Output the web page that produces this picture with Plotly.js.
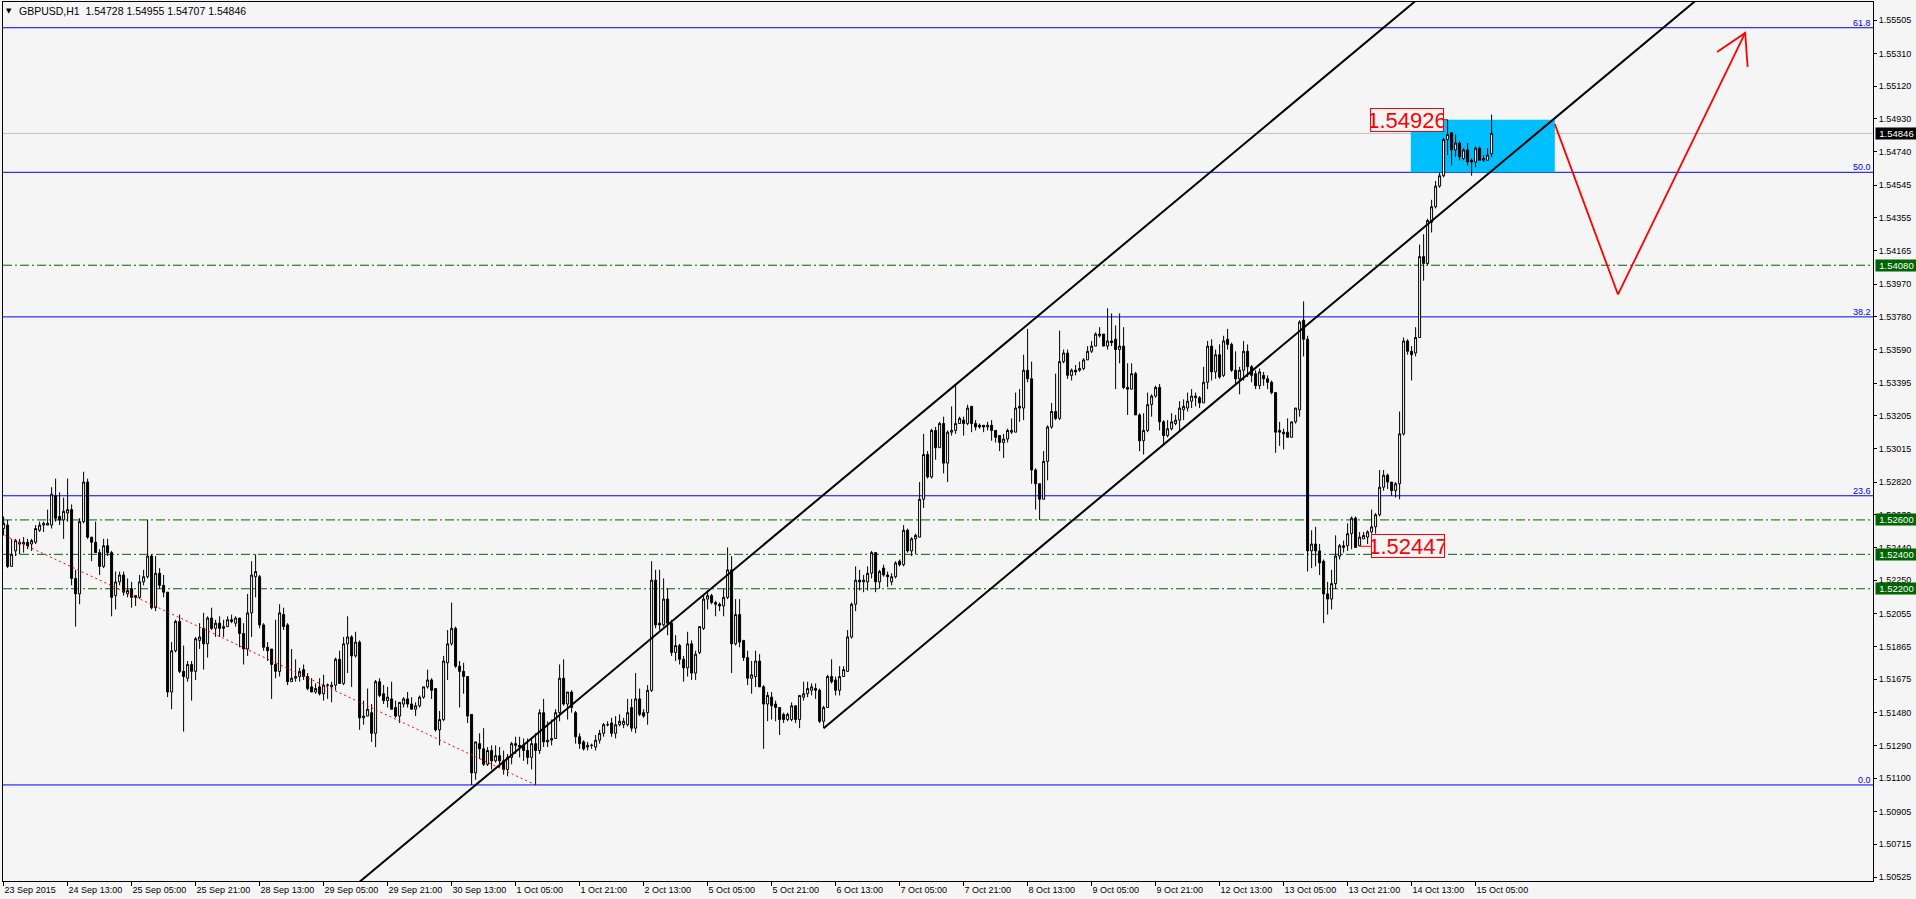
<!DOCTYPE html>
<html><head><meta charset="utf-8">
<script src="https://cdn.plot.ly/plotly-3.0.1.min.js"></script>
<style>html,body{margin:0;padding:0;background:#f5f5f5;overflow:hidden}</style>
</head><body><div id="chart" style="width:1916px;height:899px"></div>
<script>
const symbolTitle = "GBPUSD,H1  1.54728 1.54955 1.54707 1.54846";

const opens = [
1.5255,1.5257,1.5233,1.5242,1.5246,1.5246,1.5247,1.5246,1.5247,1.5254,
1.5257,1.5257,1.5257,1.5274,1.5262,1.5260,1.5264,1.5266,1.5226,1.5217,
1.5259,1.5282,1.5250,1.5247,1.5241,1.5233,1.5245,1.5241,1.5216,1.5224,
1.5228,1.5217,1.5220,1.5216,1.5215,1.5224,1.5227,1.5239,1.5209,1.5229,
1.5222,1.5218,1.5160,1.5184,1.5201,1.5172,1.5168,1.5176,1.5172,1.5190,
1.5197,1.5188,1.5203,1.5197,1.5200,1.5197,1.5198,1.5202,1.5200,1.5203,
1.5194,1.5185,1.5206,1.5227,1.5227,1.5199,1.5186,1.5185,1.5176,1.5172,
1.5205,1.5199,1.5166,1.5168,1.5169,1.5173,1.5169,1.5163,1.5160,1.5163,
1.5159,1.5164,1.5163,1.5164,1.5179,1.5165,1.5188,1.5192,1.5181,1.5189,
1.5145,1.5146,1.5148,1.5136,1.5166,1.5159,1.5155,1.5156,1.5151,1.5146,
1.5153,1.5156,1.5153,1.5150,1.5152,1.5157,1.5163,1.5167,1.5162,1.5138,
1.5144,1.5177,1.5188,1.5197,1.5175,1.5172,1.5169,1.5147,1.5113,1.5130,
1.5127,1.5118,1.5126,1.5120,1.5123,1.5120,1.5115,1.5122,1.5130,1.5129,
1.5129,1.5126,1.5122,1.5130,1.5126,1.5148,1.5131,1.5132,1.5133,1.5148,
1.5168,1.5153,1.5160,1.5148,1.5134,1.5131,1.5128,1.5129,1.5128,1.5132,
1.5136,1.5141,1.5142,1.5136,1.5141,1.5141,1.5141,1.5151,1.5139,1.5156,
1.5148,1.5148,1.5161,1.5225,1.5200,1.5199,1.5214,1.5200,1.5183,1.5187,
1.5179,1.5174,1.5188,1.5171,1.5183,1.5197,1.5214,1.5216,1.5212,1.5211,
1.5210,1.5215,1.5231,1.5188,1.5205,1.5190,1.5180,1.5168,1.5169,1.5178,
1.5163,1.5153,1.5157,1.5153,1.5151,1.5147,1.5144,1.5144,1.5152,1.5144,
1.5157,1.5159,1.5161,1.5162,1.5161,1.5143,1.5151,1.5169,1.5167,1.5161,
1.5169,1.5172,1.5192,1.5211,1.5225,1.5224,1.5224,1.5229,1.5241,1.5224,
1.5232,1.5228,1.5224,1.5227,1.5236,1.5234,1.5254,1.5242,1.5249,1.5250,
1.5272,1.5298,1.5285,1.5312,1.5302,1.5316,1.5293,1.5311,1.5312,1.5316,
1.5318,1.5316,1.5326,1.5316,1.5315,1.5315,1.5314,1.5315,1.5312,1.5309,
1.5305,1.5307,1.5311,1.5311,1.5326,1.5325,1.5347,1.5342,1.5289,1.5281,
1.5272,1.5294,1.5314,1.5323,1.5319,1.5352,1.5357,1.5344,1.5347,1.5347,
1.5348,1.5353,1.5358,1.5361,1.5367,1.5368,1.5361,1.5364,1.5365,1.5359,
1.5361,1.5337,1.5336,1.5345,1.5321,1.5306,1.5312,1.5327,1.5332,1.5337,
1.5317,1.5309,1.5313,1.5316,1.5318,1.5324,1.5325,1.5329,1.5331,1.5331,
1.5328,1.5340,1.5361,1.5346,1.5356,1.5344,1.5365,1.5362,1.5347,1.5342,
1.5347,1.5358,1.5349,1.5345,1.5338,1.5344,1.5342,1.5340,1.5334,1.5312,
1.5311,1.5311,1.5308,1.5317,1.5324,1.5376,1.5365,1.5242,1.5246,1.5242,
1.5236,1.5217,1.5214,1.5223,1.5239,1.5244,1.5245,1.5252,1.5261,1.5245,
1.5249,1.5250,1.5253,1.5256,1.5263,1.5279,1.5286,1.5282,1.5277,1.5281,
1.5310,1.5364,1.5358,1.5357,1.5366,1.5413,1.5409,1.5433,1.5442,1.5454,
1.5460,1.5481,1.5485,1.5475,1.5479,1.5470,1.5475,1.5469,1.5468,1.5476,
1.5469,1.5469,1.54728];

const highs = [
1.5262,1.5260,1.5249,1.5249,1.5249,1.5250,1.5249,1.5249,1.5257,1.5259,
1.5259,1.5266,1.5279,1.5284,1.5276,1.5273,1.5284,1.5269,1.5231,1.5261,
1.5288,1.5284,1.5250,1.5259,1.5243,1.5249,1.5249,1.5242,1.5230,1.5230,
1.5230,1.5226,1.5224,1.5216,1.5228,1.5231,1.5260,1.5240,1.5239,1.5232,
1.5228,1.5218,1.5189,1.5202,1.5205,1.5187,1.5178,1.5178,1.5192,1.5200,
1.5206,1.5204,1.5209,1.5202,1.5204,1.5202,1.5204,1.5205,1.5204,1.5203,
1.5200,1.5217,1.5236,1.5240,1.5228,1.5200,1.5189,1.5185,1.5202,1.5211,
1.5209,1.5200,1.5185,1.5179,1.5174,1.5176,1.5171,1.5168,1.5165,1.5168,
1.5170,1.5165,1.5166,1.5180,1.5184,1.5192,1.5204,1.5193,1.5195,1.5190,
1.5155,1.5162,1.5153,1.5167,1.5168,1.5164,1.5163,1.5166,1.5155,1.5154,
1.5157,1.5160,1.5157,1.5154,1.5158,1.5163,1.5173,1.5168,1.5162,1.5149,
1.5181,1.5196,1.5212,1.5198,1.5178,1.5177,1.5169,1.5147,1.5131,1.5136,
1.5139,1.5128,1.5129,1.5129,1.5128,1.5126,1.5124,1.5131,1.5134,1.5134,
1.5133,1.5133,1.5133,1.5136,1.5150,1.5156,1.5143,1.5144,1.5150,1.5176,
1.5179,1.5160,1.5161,1.5149,1.5136,1.5132,1.5131,1.5130,1.5135,1.5138,
1.5142,1.5143,1.5145,1.5146,1.5147,1.5145,1.5156,1.5156,1.5171,1.5162,
1.5150,1.5164,1.5236,1.5231,1.5231,1.5226,1.5220,1.5202,1.5193,1.5188,
1.5181,1.5195,1.5190,1.5184,1.5198,1.5216,1.5219,1.5217,1.5213,1.5212,
1.5220,1.5244,1.5239,1.5214,1.5214,1.5190,1.5184,1.5178,1.5184,1.5182,
1.5164,1.5160,1.5160,1.5155,1.5151,1.5148,1.5148,1.5154,1.5152,1.5158,
1.5166,1.5166,1.5165,1.5165,1.5162,1.5152,1.5170,1.5179,1.5169,1.5175,
1.5175,1.5196,1.5212,1.5233,1.5231,1.5228,1.5233,1.5242,1.5241,1.5231,
1.5234,1.5230,1.5229,1.5236,1.5237,1.5257,1.5255,1.5250,1.5252,1.5282,
1.5310,1.5300,1.5313,1.5314,1.5317,1.5320,1.5312,1.5326,1.5338,1.5320,
1.5320,1.5327,1.5326,1.5318,1.5316,1.5315,1.5317,1.5318,1.5312,1.5309,
1.5310,1.5313,1.5319,1.5334,1.5336,1.5356,1.5371,1.5352,1.5290,1.5281,
1.5300,1.5315,1.5328,1.5345,1.5370,1.5359,1.5359,1.5348,1.5350,1.5352,
1.5354,1.5361,1.5364,1.5369,1.5372,1.5368,1.5383,1.5380,1.5373,1.5380,
1.5372,1.5351,1.5351,1.5346,1.5322,1.5322,1.5334,1.5333,1.5338,1.5339,
1.5318,1.5318,1.5322,1.5321,1.5329,1.5330,1.5334,1.5336,1.5334,1.5332,
1.5349,1.5364,1.5365,1.5359,1.5362,1.5367,1.5371,1.5363,1.5358,1.5349,
1.5364,1.5362,1.5350,1.5347,1.5348,1.5346,1.5344,1.5341,1.5334,1.5317,
1.5313,1.5319,1.5317,1.5325,1.5376,1.5387,1.5367,1.5254,1.5256,1.5246,
1.5237,1.5224,1.5231,1.5251,1.5246,1.5248,1.5258,1.5262,1.5262,1.5253,
1.5253,1.5254,1.5266,1.5264,1.5289,1.5289,1.5287,1.5282,1.5282,1.5323,
1.5366,1.5365,1.5361,1.5372,1.5420,1.5426,1.5435,1.5446,1.5457,1.5462,
1.5482,1.54926,1.5485,1.5484,1.5480,1.5476,1.5479,1.5470,1.5477,1.5477,
1.5472,1.5476,1.54955];

const lows = [
1.5251,1.5232,1.5233,1.5239,1.5240,1.5241,1.5243,1.5242,1.5246,1.5253,
1.5253,1.5257,1.5255,1.5259,1.5257,1.5249,1.5259,1.5222,1.5198,1.5211,
1.5258,1.5249,1.5236,1.5241,1.5228,1.5232,1.5239,1.5204,1.5208,1.5222,
1.5216,1.5215,1.5209,1.5210,1.5214,1.5222,1.5226,1.5208,1.5207,1.5220,
1.5215,1.5157,1.5150,1.5183,1.5171,1.5137,1.5166,1.5155,1.5167,1.5185,
1.5173,1.5180,1.5196,1.5192,1.5192,1.5192,1.5198,1.5200,1.5198,1.5186,
1.5176,1.5181,1.5192,1.5215,1.5197,1.5184,1.5178,1.5156,1.5168,1.5169,
1.5196,1.5164,1.5166,1.5166,1.5166,1.5167,1.5161,1.5160,1.5159,1.5158,
1.5155,1.5156,1.5154,1.5161,1.5165,1.5164,1.5171,1.5163,1.5180,1.5138,
1.5141,1.5146,1.5131,1.5128,1.5157,1.5153,1.5151,1.5150,1.5145,1.5142,
1.5151,1.5151,1.5150,1.5146,1.5151,1.5156,1.5162,1.5156,1.5137,1.5129,
1.5143,1.5167,1.5187,1.5174,1.5151,1.5159,1.5142,1.5106,1.5109,1.5121,
1.5117,1.5117,1.5115,1.5119,1.5116,1.5112,1.5111,1.5118,1.5124,1.5122,
1.5120,1.5118,1.5115,1.5106,1.5124,1.5128,1.5128,1.5129,1.5133,1.5143,
1.5152,1.5144,1.5148,1.5130,1.5127,1.5126,1.5126,1.5127,1.5126,1.5130,
1.5134,1.5140,1.5134,1.5133,1.5140,1.5139,1.5140,1.5137,1.5136,1.5146,
1.5145,1.5141,1.5160,1.5197,1.5196,1.5198,1.5193,1.5181,1.5178,1.5176,
1.5166,1.5169,1.5167,1.5167,1.5182,1.5196,1.5208,1.5211,1.5204,1.5207,
1.5204,1.5214,1.5171,1.5187,1.5186,1.5178,1.5164,1.5159,1.5163,1.5163,
1.5127,1.5143,1.5144,1.5143,1.5135,1.5142,1.5143,1.5143,1.5142,1.5139,
1.5155,1.5157,1.5158,1.5156,1.5142,1.5139,1.5151,1.5165,1.5158,1.5158,
1.5169,1.5172,1.5191,1.5207,1.5219,1.5218,1.5219,1.5226,1.5218,1.5220,
1.5227,1.5221,1.5222,1.5226,1.5233,1.5233,1.5241,1.5239,1.5240,1.5250,
1.5267,1.5284,1.5284,1.5295,1.5302,1.5287,1.5282,1.5309,1.5310,1.5316,
1.5309,1.5315,1.5311,1.5312,1.5313,1.5311,1.5312,1.5306,1.5305,1.5300,
1.5296,1.5305,1.5310,1.5311,1.5317,1.5318,1.5340,1.5281,1.5266,1.5260,
1.5272,1.5283,1.5313,1.5318,1.5318,1.5351,1.5342,1.5341,1.5344,1.5346,
1.5347,1.5353,1.5357,1.5361,1.5366,1.5361,1.5359,1.5361,1.5336,1.5351,
1.5336,1.5321,1.5336,1.5321,1.5300,1.5298,1.5311,1.5320,1.5331,1.5312,
1.5304,1.5308,1.5312,1.5315,1.5312,1.5318,1.5323,1.5325,1.5326,1.5325,
1.5328,1.5336,1.5341,1.5342,1.5342,1.5343,1.5359,1.5346,1.5339,1.5333,
1.5341,1.5343,1.5340,1.5336,1.5336,1.5338,1.5336,1.5333,1.5299,1.5303,
1.5301,1.5308,1.5308,1.5316,1.5320,1.5355,1.5230,1.5232,1.5233,1.5228,
1.5200,1.5205,1.5208,1.5220,1.5237,1.5241,1.5242,1.5243,1.5244,1.52447,
1.5249,1.5246,1.5252,1.5252,1.5262,1.5277,1.5278,1.5274,1.5273,1.5272,
1.5309,1.5356,1.5341,1.5355,1.5366,1.5399,1.5408,1.5427,1.5441,1.5453,
1.5459,1.5472,1.5466,1.5471,1.5469,1.5469,1.5466,1.5460,1.5465,1.5469,
1.5468,1.5469,1.54707];

const closes = [
1.5258,1.5233,1.5240,1.5248,1.5247,1.5247,1.5245,1.5248,1.5255,1.5257,
1.5258,1.5258,1.5275,1.5261,1.5260,1.5265,1.5266,1.5226,1.5217,1.5259,
1.5282,1.5250,1.5247,1.5241,1.5233,1.5245,1.5241,1.5215,1.5224,1.5228,
1.5218,1.5219,1.5215,1.5215,1.5224,1.5227,1.5239,1.5209,1.5229,1.5222,
1.5218,1.5160,1.5184,1.5201,1.5172,1.5169,1.5176,1.5172,1.5191,1.5192,
1.5188,1.5203,1.5197,1.5200,1.5197,1.5198,1.5202,1.5201,1.5203,1.5194,
1.5185,1.5206,1.5228,1.5230,1.5199,1.5186,1.5184,1.5176,1.5172,1.5206,
1.5198,1.5166,1.5168,1.5169,1.5172,1.5169,1.5162,1.5160,1.5162,1.5159,
1.5164,1.5164,1.5164,1.5179,1.5165,1.5188,1.5192,1.5181,1.5189,1.5145,
1.5146,1.5150,1.5136,1.5166,1.5158,1.5155,1.5157,1.5150,1.5146,1.5154,
1.5156,1.5153,1.5150,1.5152,1.5157,1.5163,1.5167,1.5161,1.5138,1.5144,
1.5178,1.5188,1.5197,1.5175,1.5172,1.5169,1.5146,1.5113,1.5131,1.5127,
1.5118,1.5126,1.5120,1.5123,1.5120,1.5115,1.5122,1.5130,1.5129,1.5128,
1.5126,1.5122,1.5130,1.5126,1.5148,1.5131,1.5132,1.5133,1.5148,1.5168,
1.5153,1.5160,1.5151,1.5134,1.5130,1.5127,1.5129,1.5129,1.5132,1.5136,
1.5141,1.5141,1.5136,1.5141,1.5143,1.5143,1.5148,1.5139,1.5156,1.5147,
1.5146,1.5161,1.5225,1.5199,1.5199,1.5214,1.5200,1.5183,1.5187,1.5179,
1.5174,1.5188,1.5171,1.5182,1.5198,1.5214,1.5216,1.5212,1.5211,1.5210,
1.5215,1.5231,1.5188,1.5205,1.5189,1.5180,1.5168,1.5170,1.5178,1.5163,
1.5153,1.5158,1.5152,1.5151,1.5144,1.5144,1.5147,1.5152,1.5144,1.5158,
1.5159,1.5162,1.5163,1.5161,1.5143,1.5151,1.5169,1.5166,1.5161,1.5169,
1.5173,1.5192,1.5211,1.5225,1.5224,1.5225,1.5229,1.5241,1.5224,1.5230,
1.5228,1.5227,1.5227,1.5235,1.5234,1.5254,1.5242,1.5249,1.5251,1.5272,
1.5298,1.5285,1.5312,1.5302,1.5316,1.5293,1.5311,1.5312,1.5316,1.5319,
1.5316,1.5325,1.5316,1.5314,1.5314,1.5314,1.5315,1.5312,1.5308,1.5305,
1.5307,1.5312,1.5312,1.5325,1.5325,1.5347,1.5342,1.5289,1.5281,1.5272,
1.5294,1.5314,1.5323,1.5319,1.5352,1.5357,1.5344,1.5347,1.5346,1.5348,
1.5353,1.5358,1.5361,1.5368,1.5368,1.5361,1.5364,1.5363,1.5359,1.5361,
1.5337,1.5336,1.5345,1.5321,1.5306,1.5312,1.5327,1.5332,1.5337,1.5317,
1.5309,1.5313,1.5317,1.5318,1.5325,1.5326,1.5329,1.5332,1.5332,1.5328,
1.5340,1.5361,1.5346,1.5356,1.5343,1.5364,1.5362,1.5347,1.5342,1.5347,
1.5358,1.5349,1.5344,1.5338,1.5346,1.5342,1.5340,1.5334,1.5311,1.5311,
1.5310,1.5308,1.5317,1.5325,1.5375,1.5365,1.5242,1.5246,1.5242,1.5235,
1.5217,1.5214,1.5223,1.5239,1.5245,1.5245,1.5252,1.5261,1.5244,1.5250,
1.5251,1.5253,1.5256,1.5263,1.5279,1.5286,1.5282,1.5277,1.5281,1.5310,
1.5364,1.5358,1.5356,1.5366,1.5413,1.5409,1.5434,1.5442,1.5454,1.5460,
1.5481,1.5484,1.5475,1.5479,1.5471,1.5475,1.5468,1.5468,1.5476,1.5469,
1.5470,1.5472,1.54846];

const xTickBars = [0,16,32,48,64,80,96,112,128,144,160,176,192,208,224,240,256,272,288,304,320,336,352,368];
const xTickText = ["23 Sep 2015","24 Sep 13:00","25 Sep 05:00","25 Sep 21:00","28 Sep 13:00","29 Sep 05:00",
  "29 Sep 21:00","30 Sep 13:00","1 Oct 05:00","1 Oct 21:00","2 Oct 13:00","5 Oct 05:00","5 Oct 21:00",
  "6 Oct 13:00","7 Oct 05:00","7 Oct 21:00","8 Oct 13:00","9 Oct 05:00","9 Oct 21:00","12 Oct 13:00",
  "13 Oct 05:00","13 Oct 21:00","14 Oct 13:00","15 Oct 05:00"];
const yTickVals = [1.55505,1.55310,1.55120,1.54930,1.54740,1.54545,1.54355,1.54165,1.53970,1.53780,
  1.53590,1.53395,1.53205,1.53015,1.52820,1.52630,1.52440,1.52250,1.52055,1.51865,1.51675,1.51480,
  1.51290,1.51100,1.50905,1.50715,1.50525];

const fibLow = 1.5106, fibHigh = 1.5818;
const fibLevels = [0, 23.6, 38.2, 50, 61.8];
const fibLabels = ["0.0","23.6","38.2","50.0","61.8"];
const fibAnchorBars = [-519, 133];
const fibAnchorPrices = [1.5818, 1.5106];
const supportLevels = [1.5408, 1.5260, 1.5240, 1.5220];
const bidPrice = 1.54846;
const channelSlope = 0.0001939;
const channelUpperAnchor = [117, 1.5104];
const channelLowerAnchor = [205, 1.5139];
const zoneBars = [351.8, 387.8];
const zonePrices = [1.5462, 1.54926];
const forecastBars = [387.8, 403.6, 435.4];
const forecastPrices = [1.5490, 1.5391, 1.5543];
const highMark = {bar: 361, price: 1.54926, text: "1.54926"};
const lowMark = {bar: 339, price: 1.52447, text: "1.52447"};

// ---------- build ----------
const X_RANGE = [-0.15, 467.35];
const Y_RANGE = [1.505018, 1.556096];
const PLOT_W = 1870, PLOT_H = 879;
const pxPerBar = PLOT_W / (X_RANGE[1] - X_RANGE[0]);
const pxPerPrice = PLOT_H / (Y_RANGE[1] - Y_RANGE[0]);

const xs = opens.map((_, i) => i);
const FONT = 'Liberation Sans, Arial, sans-serif';

const traces = [{
  type: 'candlestick', x: xs, open: opens, high: highs, low: lows, close: closes,
  increasing: {line: {color: '#000000', width: 1}, fillcolor: '#ffffff'},
  decreasing: {line: {color: '#000000', width: 1}, fillcolor: '#000000'},
  whiskerwidth: 0, hoverinfo: 'skip', showlegend: false
}];

function channelLine(anchor, fromBar, toBar) {
  return {
    type: 'scatter', mode: 'lines', hoverinfo: 'skip', showlegend: false,
    x: [fromBar, toBar],
    y: [anchor[1] + (fromBar - anchor[0]) * channelSlope, anchor[1] + (toBar - anchor[0]) * channelSlope],
    line: {color: '#000000', width: 2}
  };
}
traces.push(channelLine(channelUpperAnchor, -50, 600));
traces.push(channelLine(channelLowerAnchor, channelLowerAnchor[0], 600));

traces.push({
  type: 'scatter', mode: 'lines', hoverinfo: 'skip', showlegend: false,
  x: fibAnchorBars, y: fibAnchorPrices, line: {color: '#ff0000', width: 1, dash: '2px,3px'}
});
traces.push({
  type: 'scatter', mode: 'lines', hoverinfo: 'skip', showlegend: false,
  x: forecastBars, y: forecastPrices, line: {color: '#ff0000', width: 1.8}
});

// open arrow head at the end of the forecast path (two barbs, drawn in screen pixels)
(function () {
  const tx = forecastBars[2], ty = forecastPrices[2];
  const dxPx = (forecastBars[1] - tx) * pxPerBar;
  const dyPx = -(forecastPrices[1] - ty) * pxPerPrice;
  const len = Math.hypot(dxPx, dyPx);
  const ux = dxPx / len, uy = dyPx / len;
  const barb = 34, ang = 30 * Math.PI / 180;
  const pts = [ang, -ang].map(a => {
    const bx = ux * Math.cos(a) - uy * Math.sin(a);
    const by = ux * Math.sin(a) + uy * Math.cos(a);
    return [tx + bx * barb / pxPerBar, ty - by * barb / pxPerPrice];
  });
  traces.push({
    type: 'scatter', mode: 'lines', hoverinfo: 'skip', showlegend: false,
    x: [pts[0][0], tx, pts[1][0]], y: [pts[0][1], ty, pts[1][1]],
    line: {color: '#ff0000', width: 1.8}
  });
})();

const shapes = [];
const annotations = [];

shapes.push({type: 'rect', xref: 'x', yref: 'y', x0: zoneBars[0], x1: zoneBars[1], y0: zonePrices[0], y1: zonePrices[1],
  fillcolor: '#00bfff', line: {width: 0}, layer: 'below'});

fibLevels.forEach((lv, i) => {
  const p = fibLow + (fibHigh - fibLow) * lv / 100;
  shapes.push({type: 'line', xref: 'paper', x0: 0, x1: 1, yref: 'y', y0: p, y1: p,
    line: {color: '#0000ff', width: 1}, layer: 'below'});
  annotations.push({xref: 'paper', x: 1, xanchor: 'right', xshift: -1, yref: 'y', y: p, yanchor: 'bottom', yshift: -1,
    text: fibLabels[i], showarrow: false, borderpad: 0, font: {family: FONT, size: 9, color: '#0000ff'}});
});

supportLevels.forEach(p => {
  shapes.push({type: 'line', xref: 'paper', x0: 0, x1: 1, yref: 'y', y0: p, y1: p,
    line: {color: '#006400', width: 1, dash: '9px,3px,2px,3px'}, layer: 'below'});
  annotations.push({xref: 'paper', x: 1, xanchor: 'left', xshift: 2, yref: 'y', y: p, yanchor: 'middle',
    text: p.toFixed(5), showarrow: false, bgcolor: '#006400', width: 39, height: 9, borderpad: 1,
    font: {family: FONT, size: 9.5, color: '#ffffff'}});
});

shapes.push({type: 'line', xref: 'paper', x0: 0, x1: 1, yref: 'y', y0: bidPrice, y1: bidPrice,
  line: {color: '#c0c0c0', width: 1}, layer: 'below'});
annotations.push({xref: 'paper', x: 1, xanchor: 'left', xshift: 2, yref: 'y', y: bidPrice, yanchor: 'middle',
  text: bidPrice.toFixed(5), showarrow: false, bgcolor: '#000000', width: 39, height: 9, borderpad: 1,
  font: {family: FONT, size: 9.5, color: '#ffffff'}});

// price marks
const markFont = {family: 'Liberation Sans Narrow, Liberation Sans, Arial, sans-serif', size: 22, color: '#ff0000'};
annotations.push({x: highMark.bar, y: highMark.price, xref: 'x', yref: 'y', text: highMark.text,
  showarrow: true, arrowhead: 0, arrowcolor: '#ff0000', arrowwidth: 1, ax: -41, ay: 0,
  bordercolor: '#ff0000', borderwidth: 1, bgcolor: '#f5f5f5', borderpad: 0, width: 72, height: 22, font: markFont});
annotations.push({x: lowMark.bar, y: lowMark.price, xref: 'x', yref: 'y', text: lowMark.text,
  showarrow: true, arrowhead: 0, arrowcolor: '#ff0000', arrowwidth: 1, ax: 48, ay: 0,
  bordercolor: '#ff0000', borderwidth: 1, bgcolor: '#f5f5f5', borderpad: 0, width: 72, height: 22, font: markFont});

// title
annotations.push({xref: 'paper', yref: 'paper', x: 0.0032, y: 0.9901, xanchor: 'center', yanchor: 'middle',
  text: '▼', showarrow: false, font: {family: 'DejaVu Sans', size: 7, color: '#000000'}});
annotations.push({xref: 'paper', yref: 'paper', x: 0.0075, y: 0.9901, xanchor: 'left', yanchor: 'middle',
  text: symbolTitle.replace(/  /g, '&nbsp; '), showarrow: false, font: {family: FONT, size: 10.5, color: '#000000'}});

const layout = {
  width: 1916, height: 899,
  margin: {l: 3, r: 43, t: 2, b: 18, pad: 0},
  paper_bgcolor: '#f5f5f5', plot_bgcolor: '#f5f5f5',
  showlegend: false, hovermode: false, dragmode: false,
  boxgap: 0.5, boxgroupgap: 0,
  font: {family: FONT, size: 9, color: '#000000'},
  title: {text: ''},
  xaxis: {
    range: X_RANGE, rangeslider: {visible: false}, showgrid: false, zeroline: false,
    tickmode: 'array', tickvals: xTickBars, ticktext: xTickText,
    ticks: 'outside', ticklen: 4, tickcolor: '#000000', tickwidth: 1,
    ticklabelposition: 'outside right',
    showline: true, linecolor: '#000000', linewidth: 1, mirror: true,
    tickfont: {family: FONT, size: 9, color: '#000000'}, fixedrange: true
  },
  yaxis: {
    range: Y_RANGE, side: 'right', showgrid: false, zeroline: false,
    tickmode: 'array', tickvals: yTickVals, ticktext: yTickVals.map(v => v.toFixed(5)),
    ticks: 'outside', ticklen: 3, tickcolor: '#000000', tickwidth: 1,
    showline: true, linecolor: '#000000', linewidth: 1, mirror: true,
    tickfont: {family: FONT, size: 9, color: '#000000'}, fixedrange: true
  },
  shapes: shapes,
  annotations: annotations
};

Plotly.newPlot('chart', traces, layout, {displayModeBar: false, staticPlot: true});
</script>
</body></html>
